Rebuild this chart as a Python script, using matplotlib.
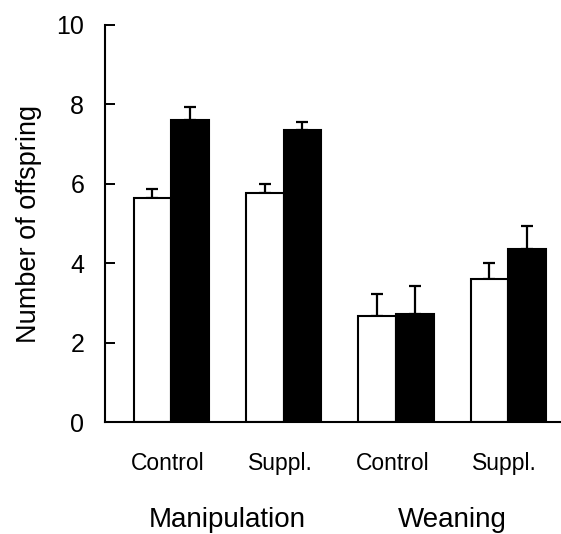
import matplotlib
matplotlib.use("Agg")
import matplotlib.pyplot as plt
import numpy as np

plt.rcParams['font.family'] = ['Liberation Sans', 'DejaVu Sans']

categories = ["Control", "Suppl.", "Control", "Suppl."]
groups = ["Manipulation", "Weaning"]
white_vals = [5.63, 5.76, 2.67, 3.60]
white_err = [0.25, 0.24, 0.56, 0.40]
black_vals = [7.61, 7.35, 2.72, 4.37]
black_err = [0.33, 0.20, 0.71, 0.56]
yticks = [0, 2, 4, 6, 8, 10]

fig = plt.figure(figsize=(5.61, 5.34), dpi=100)
ax = fig.add_axes([105/561, 1 - 422/534, 1 - 105/561, (422 - 25)/534])

x = np.arange(len(categories))
w = 0.335
ax.bar(x - w/2, white_vals, w, color="white", edgecolor="black", linewidth=1.5, zorder=2)
ax.bar(x + w/2, black_vals, w, color="black", edgecolor="black", linewidth=1.5, zorder=2)
ax.errorbar(x - w/2, white_vals, yerr=[np.zeros(4), white_err], fmt="none",
            ecolor="black", elinewidth=1.6, capsize=4.5, capthick=1.6, zorder=1)
ax.errorbar(x + w/2, black_vals, yerr=[np.zeros(4), black_err], fmt="none",
            ecolor="black", elinewidth=1.6, capsize=4.5, capthick=1.6, zorder=1)

ax.set_xlim(-0.59, 3.47)
ax.set_ylim(0, 10)
ax.set_yticks(yticks)
ax.set_yticklabels([str(t) for t in yticks], fontsize=18)
ax.tick_params(axis="y", direction="in", length=7.5, width=1.4, pad=15)
ax.set_xticks([])
for s in ["top", "right"]:
    ax.spines[s].set_visible(False)
for s in ["left", "bottom"]:
    ax.spines[s].set_linewidth(1.5)

ax.set_ylabel("Number of offspring", fontsize=19.5, labelpad=10)

for xi, c in zip(x, categories):
    ax.text(xi - 0.03, -1.05, c, ha="center", va="center", fontsize=16.5,
            transform=ax.transData)
for gi, g in enumerate(groups):
    ax.text(gi * 2 + 0.5, -2.48, g, ha="center", va="center", fontsize=20,
            transform=ax.transData)

fig.savefig("out.png", dpi=100)
